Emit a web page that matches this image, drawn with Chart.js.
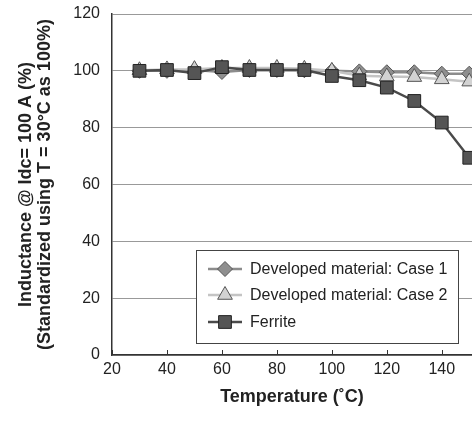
<!DOCTYPE html>
<html lang="en">
<head>
    <meta charset="UTF-8">
    <title>Inductance vs temperature</title>
    <script src="https://cdn.jsdelivr.net/npm/chart.js"></script>
    <style>
        html, body { margin: 0; padding: 0; background: #fff; }
        #wrap { width: 472px; height: 428px; }
    </style>
</head>
<body>
<div id="wrap"><canvas id="chart" width="472" height="428"></canvas></div>
<script>
    // values
    const temps = [30, 40, 50, 60, 70, 80, 90, 100, 110, 120, 130, 140, 150];
    const case1 = [100, 100, 100.3, 99.6, 100.3, 100.3, 100.2, 100, 99.8, 99.5, 99.5, 99, 99];
    const case2 = [100.2, 100.5, 100.6, 101, 101, 101, 100.7, 100, 98.3, 98, 97.8, 97, 96.2];
    const ferrite = [100, 100.3, 99.2, 101.3, 100.3, 100.3, 100.3, 98.2, 96.7, 94.1, 89.4, 81.8, 69.4];
    const yTicks = [0, 20, 40, 60, 80, 100, 120];
    const xTicks = [20, 40, 60, 80, 100, 120, 140];

    const FONT = '"Liberation Sans", Arial, Helvetica, sans-serif';
    Chart.defaults.font.family = FONT;
    Chart.defaults.color = '#222';

    function pts(ys) {
        return temps.map((t, i) => ({ x: t, y: ys[i] }));
    }

    // small tick marks pointing up into the plot
    const innerTicks = {
        id: 'innerTicks',
        afterDatasetsDraw(chart) {
            const ctx = chart.ctx, xs = chart.scales.x, area = chart.chartArea;
            ctx.save();
            ctx.strokeStyle = '#333';
            ctx.lineWidth = 1;
            xTicks.forEach(v => {
                const px = Math.round(xs.getPixelForValue(v)) + 0.5;
                ctx.beginPath();
                ctx.moveTo(px, area.bottom);
                ctx.lineTo(px, area.bottom - 5);
                ctx.stroke();
            });
            ctx.restore();
        }
    };

    // boxed legend inside the plot
    const boxLegend = {
        id: 'boxLegend',
        afterDraw(chart) {
            const ctx = chart.ctx;
            const x0 = 196, y0 = 250, w = 262, h = 93;
            ctx.save();
            ctx.fillStyle = '#fff';
            ctx.fillRect(x0, y0, w, h);
            ctx.strokeStyle = '#444';
            ctx.lineWidth = 1;
            ctx.strokeRect(x0 + 0.5, y0 + 0.5, w, h);
            ctx.font = '16px ' + FONT;
            ctx.textBaseline = 'middle';
            const rows = [269, 295, 322];
            chart.data.datasets.forEach((ds, i) => {
                const y = rows[i];
                ctx.strokeStyle = ds.borderColor;
                ctx.lineWidth = ds.borderWidth;
                ctx.beginPath();
                ctx.moveTo(208, y);
                ctx.lineTo(242, y);
                ctx.stroke();
                ctx.fillStyle = ds.pointBackgroundColor;
                ctx.strokeStyle = ds.pointBorderColor;
                ctx.lineWidth = 1;
                Chart.helpers.drawPoint(ctx, {
                    pointStyle: ds.pointStyle,
                    radius: ds.pointRadius,
                    rotation: 0,
                    borderWidth: 1
                }, 225, y);
                ctx.fillStyle = '#222';
                ctx.fillText(ds.label, 250, y + 1);
            });
            ctx.restore();
        }
    };

    new Chart(document.getElementById('chart'), {
        type: 'line',
        data: {
            datasets: [{
                label: 'Developed material: Case 1',
                data: pts(case1),
                borderColor: '#8c8c8c',
                borderWidth: 2.5,
                pointStyle: 'rectRot',
                pointRadius: 7.5,
                pointBackgroundColor: '#8f8f8f',
                pointBorderColor: '#555',
                pointBorderWidth: 1,
                order: 2
            }, {
                label: 'Developed material: Case 2',
                data: pts(case2),
                borderColor: '#c4c4c4',
                borderWidth: 2.5,
                pointStyle: 'triangle',
                pointRadius: 8.5,
                pointBackgroundColor: '#d2d2d2',
                pointBorderColor: '#555',
                pointBorderWidth: 1,
                order: 1
            }, {
                label: 'Ferrite',
                data: pts(ferrite),
                borderColor: '#4a4a4a',
                borderWidth: 2.5,
                pointStyle: 'rect',
                pointRadius: 9,
                pointBackgroundColor: '#555',
                pointBorderColor: '#222',
                pointBorderWidth: 1,
                order: 0
            }]
        },
        options: {
            responsive: false,
            animation: false,
            layout: { autoPadding: false, padding: { top: 14, right: 0, left: 0, bottom: 0 } },
            plugins: {
                legend: { display: false },
                tooltip: { enabled: false }
            },
            scales: {
                x: {
                    type: 'linear',
                    min: 20,
                    max: 151,
                    afterBuildTicks: s => { s.ticks = xTicks.map(v => ({ value: v })); },
                    afterFit: s => {
                        s.height = 73;
                        s.paddingLeft = 0;
                        s.paddingRight = 0;
                    },
                    grid: { display: false, drawTicks: false },
                    border: { color: '#333', width: 1.5 },
                    ticks: { font: { size: 16 }, padding: 5, maxRotation: 0 },
                    title: {
                        display: true,
                        text: 'Temperature (\u02daC)',
                        font: { size: 18, weight: 'bold' },
                        padding: { top: 0, bottom: 20 }
                    }
                },
                y: {
                    min: 0,
                    max: 120,
                    afterBuildTicks: s => { s.ticks = yTicks.map(v => ({ value: v })); },
                    afterFit: s => {
                        s.width = 112;
                        s.paddingTop = 0;
                        s.paddingBottom = 0;
                    },
                    grid: { color: '#999', lineWidth: 1, drawTicks: false },
                    border: { color: '#333', width: 1.5 },
                    ticks: { font: { size: 16 }, padding: 12 },
                    title: {
                        display: true,
                        text: ['Inductance @ Idc= 100 A (%)', '(Standardized using T = 30\u00b0C as 100%)'],
                        font: { size: 18, weight: 'bold', lineHeight: 1.05 },
                        padding: { top: 17, bottom: 0 }
                    }
                }
            }
        },
        plugins: [innerTicks, boxLegend]
    });
</script>
</body>
</html>
